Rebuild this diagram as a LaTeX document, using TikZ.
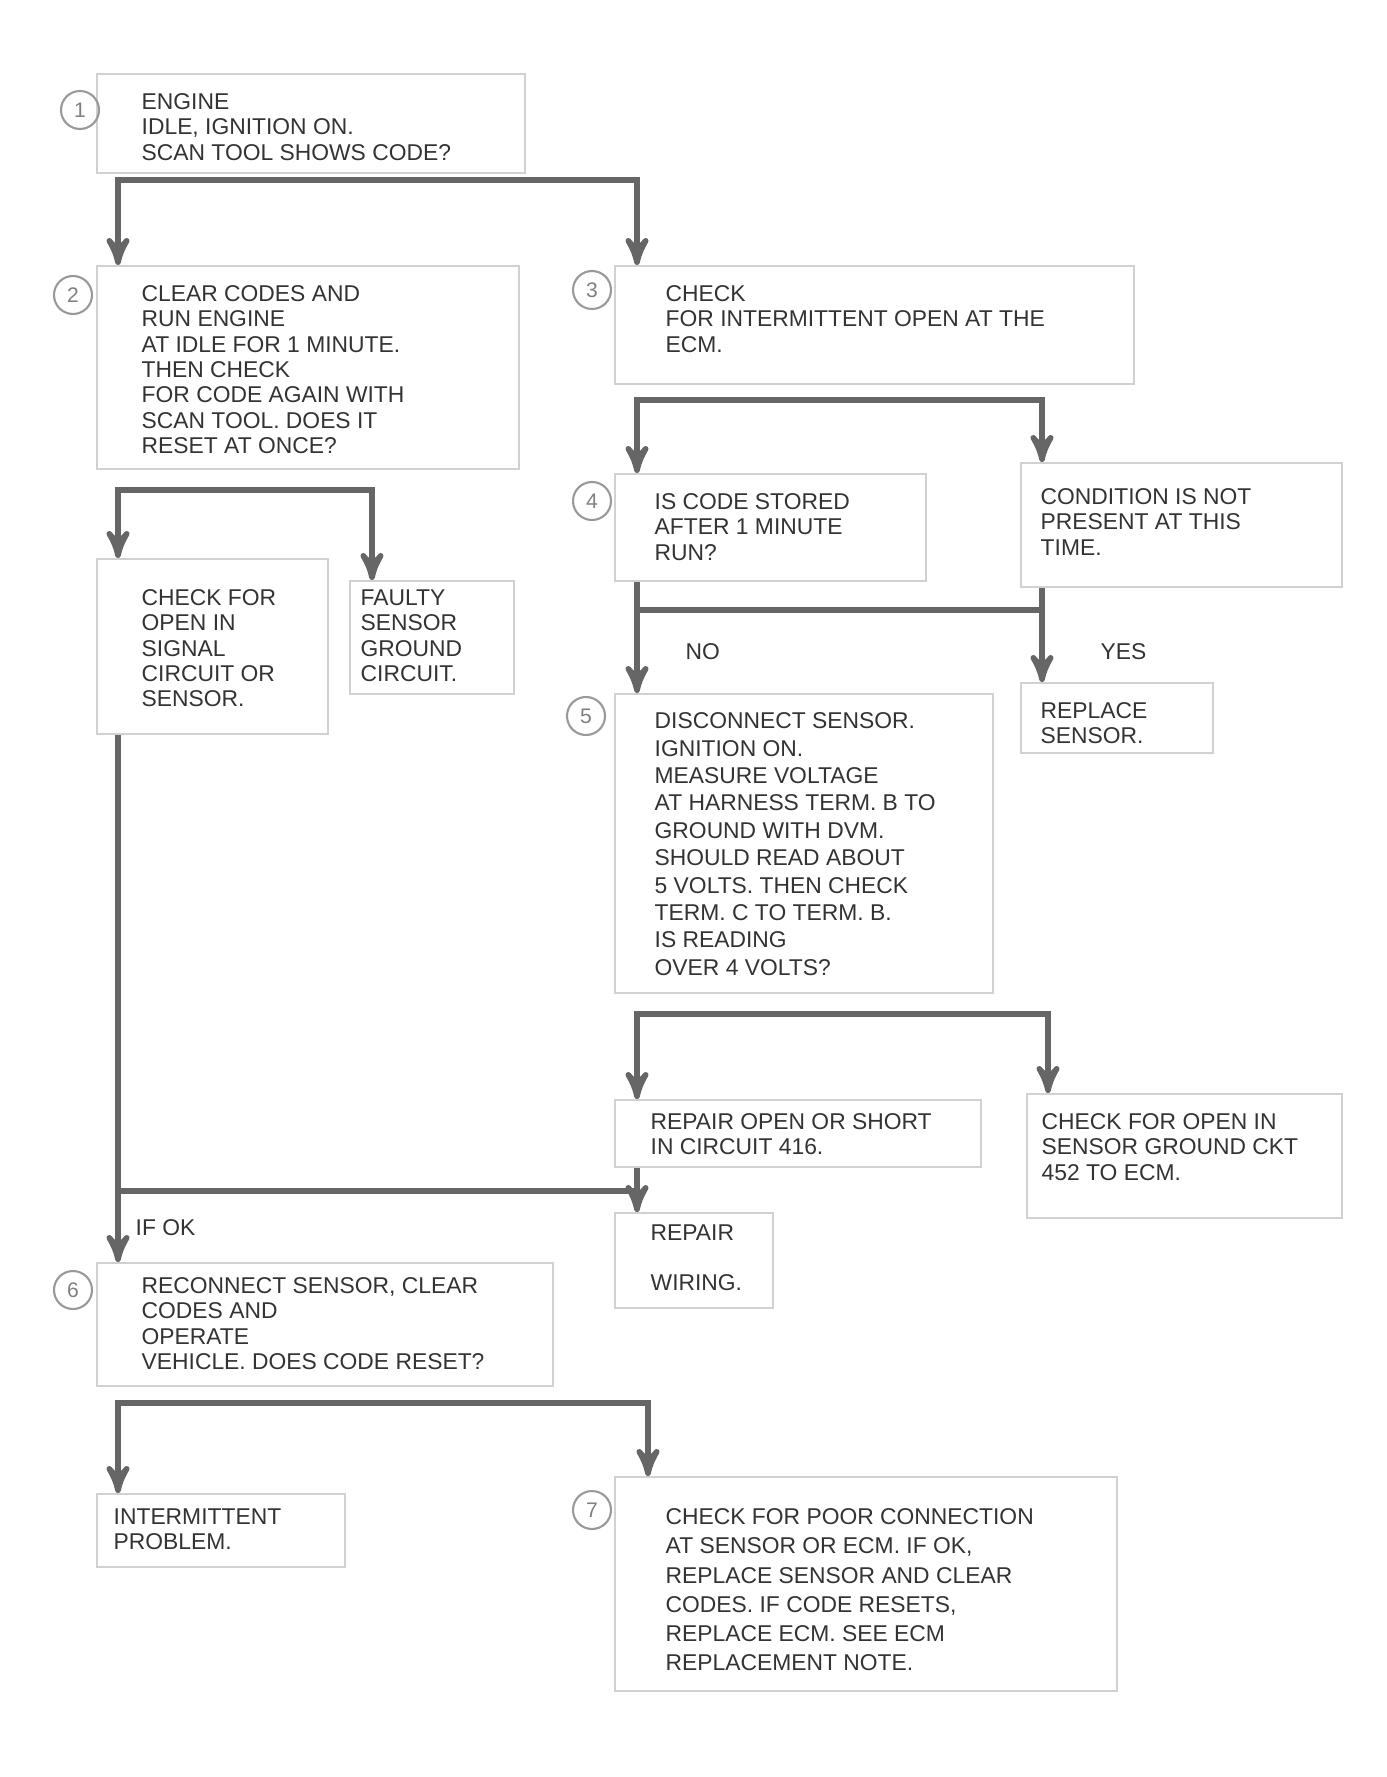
\documentclass[tikz,border=0pt]{standalone}
\usepackage{fontspec}
\setmainfont{Liberation Sans}
\usetikzlibrary{arrows}

\begin{document}
\begin{tikzpicture}[x=0.1mm,y=-0.1mm,>=stealth',
                    box/.style={draw=black!18,line width=0.6pt,anchor=north west,inner sep=0pt},
                    txt/.style={anchor=north west,inner sep=0pt,align=left,text=black!80,
                                font=\fontsize{6.5}{7.2}\selectfont},
                    num/.style={circle,draw=black!40,line width=0.6pt,minimum size=3.8mm,inner sep=0pt,
                                text=black!50,font=\fontsize{6}{6}\selectfont},
                    conn/.style={draw=black!60,line width=1.6pt},
                    lbl/.style={anchor=west,inner sep=0pt,text=black!80,font=\fontsize{6.5}{7.2}\selectfont}]
  \useasboundingbox (0,0) rectangle (1386,1777);

  % boxes
  \node[box,minimum width=42.8mm,minimum height=9.9mm]  (A) at (96,73) {};
  \node[box,minimum width=42.2mm,minimum height=20.3mm] (B) at (96,265) {};
  \node[box,minimum width=51.9mm,minimum height=11.8mm] (C) at (614,265) {};
  \node[box,minimum width=23.1mm,minimum height=17.5mm] (D) at (96,558) {};
  \node[box,minimum width=16.4mm,minimum height=11.3mm] (E) at (349,580) {};
  \node[box,minimum width=31.1mm,minimum height=10.7mm] (F) at (614,473) {};
  \node[box,minimum width=32.1mm,minimum height=12.4mm] (G) at (1020,462) {};
  \node[box,minimum width=37.8mm,minimum height=29.9mm] (H) at (614,693) {};
  \node[box,minimum width=19.2mm,minimum height=7.0mm]  (I) at (1020,682) {};
  \node[box,minimum width=36.6mm,minimum height=6.7mm]  (J) at (614,1099) {};
  \node[box,minimum width=31.5mm,minimum height=12.4mm] (K) at (1026,1093) {};
  \node[box,minimum width=15.8mm,minimum height=9.5mm]  (T) at (614,1212) {};
  \node[box,minimum width=45.6mm,minimum height=12.3mm] (L) at (96,1262) {};
  \node[box,minimum width=24.8mm,minimum height=7.3mm]  (M) at (96,1493) {};
  \node[box,minimum width=50.2mm,minimum height=21.4mm] (N) at (614,1476) {};

  % texts
  \node[txt] (A txt) at ([shift={(4.5mm,-2.0mm)}]A.north west)
    {ENGINE\\IDLE, IGNITION ON.\\SCAN TOOL SHOWS CODE?};
  \node[txt] (B txt) at ([shift={(4.5mm,-2.0mm)}]B.north west)
    {CLEAR CODES AND\\RUN ENGINE\\AT IDLE FOR 1 MINUTE.\\THEN CHECK\\FOR CODE AGAIN WITH\\SCAN TOOL. DOES IT\\RESET AT ONCE?};
  \node[txt] (C txt) at ([shift={(5.1mm,-2.0mm)}]C.north west)
    {CHECK\\FOR INTERMITTENT OPEN AT THE\\ECM.};
  \node[txt] (D txt) at ([shift={(4.5mm,-3.1mm)}]D.north west)
    {CHECK FOR\\OPEN IN\\SIGNAL\\CIRCUIT OR\\SENSOR.};
  \node[txt] (E txt) at ([shift={(1.1mm,-0.9mm)}]E.north west)
    {FAULTY\\SENSOR\\GROUND\\CIRCUIT.};
  \node[txt] (F txt) at ([shift={(4.0mm,-2.0mm)}]F.north west)
    {IS CODE STORED\\AFTER 1 MINUTE\\RUN?};
  \node[txt] (G txt) at ([shift={(2.0mm,-2.6mm)}]G.north west)
    {CONDITION IS NOT\\PRESENT AT THIS\\TIME.};
  \node[txt,font=\fontsize{6.5}{7.8}\selectfont] (H txt) at ([shift={(4.0mm,-1.9mm)}]H.north west)
    {DISCONNECT SENSOR.\\IGNITION ON.\\MEASURE VOLTAGE\\AT HARNESS TERM. B TO\\GROUND WITH DVM.\\SHOULD READ ABOUT\\5 VOLTS. THEN CHECK\\TERM. C TO TERM. B.\\IS READING\\OVER 4 VOLTS?};
  \node[txt] (I txt) at ([shift={(2.0mm,-2.0mm)}]I.north west)
    {REPLACE\\SENSOR.};
  \node[txt] (J txt) at ([shift={(3.6mm,-1.4mm)}]J.north west)
    {REPAIR OPEN OR SHORT\\IN CIRCUIT 416.};
  \node[txt] (K txt) at ([shift={(1.5mm,-2.0mm)}]K.north west)
    {CHECK FOR OPEN IN\\SENSOR GROUND CKT\\452 TO ECM.};
  \node[txt] (T txt) at ([shift={(3.6mm,-1.2mm)}]T.north west)
    {REPAIR\\[2.5mm]WIRING.};
  \node[txt] (L txt) at ([shift={(4.5mm,-1.5mm)}]L.north west)
    {RECONNECT SENSOR, CLEAR\\CODES AND\\OPERATE\\VEHICLE. DOES CODE RESET?};
  \node[txt] (M txt) at ([shift={(1.7mm,-1.5mm)}]M.north west)
    {INTERMITTENT\\PROBLEM.};
  \node[txt,font=\fontsize{6.5}{8.3}\selectfont] (N txt) at ([shift={(5.1mm,-3.2mm)}]N.north west)
    {CHECK FOR POOR CONNECTION\\AT SENSOR OR ECM. IF OK,\\REPLACE SENSOR AND CLEAR\\CODES. IF CODE RESETS,\\REPLACE ECM. SEE ECM\\REPLACEMENT NOTE.};

  % step numbers
  \node[num] (n1) at (80,110) {1};
  \node[num] (n2) at (73,295) {2};
  \node[num] (n3) at (592,290) {3};
  \node[num] (n4) at (592,501) {4};
  \node[num] (n5) at (586,716) {5};
  \node[num] (n6) at (73,1290) {6};
  \node[num] (n7) at (592,1510) {7};

  % branch labels
  \node[lbl] (no H)  at (685,652) {NO};
  \node[lbl] (yes I) at (1100,652) {YES};
  \node[lbl] (ok L)  at (135,1228) {IF OK};

  % connectors
  \draw[conn,<->] ([xshift=2.2mm]B.north west) -- ++(0,-85) -| ([xshift=2.3mm]C.north west);
  \draw[conn,<->] ([xshift=2.2mm]D.north west) -- ++(0,-68) -| ([xshift=2.3mm]E.north west);
  \draw[conn,<->] ([xshift=2.3mm]F.north west) -- ++(0,-73) -| ([xshift=2.2mm]G.north west);
  \draw[conn] ([xshift=2.3mm]F.south west) -- ++(0,30);
  \draw[conn] ([xshift=2.2mm]G.south west) -- ++(0,24);
  \draw[conn,<->] ([xshift=2.3mm]H.north west) -- ++(0,-83) -| ([xshift=2.2mm]I.north west);
  \draw[conn,<->] ([xshift=2.3mm]J.north west) -- ++(0,-85) -| ([xshift=2.2mm]K.north west);
  \draw[conn,->] ([xshift=2.3mm]J.south west) -- ([xshift=2.3mm]T.north west);
  \draw[conn] ([xshift=2.3mm]J.south west) ++(0,23) -- ++(-519,0);
  \draw[conn,->] ([xshift=2.2mm]D.south west) -- ([xshift=2.2mm]L.north west);
  \draw[conn,<->] ([xshift=2.2mm]M.north west) -- ++(0,-90) -| ([xshift=3.4mm]N.north west);
\end{tikzpicture}
\end{document}
